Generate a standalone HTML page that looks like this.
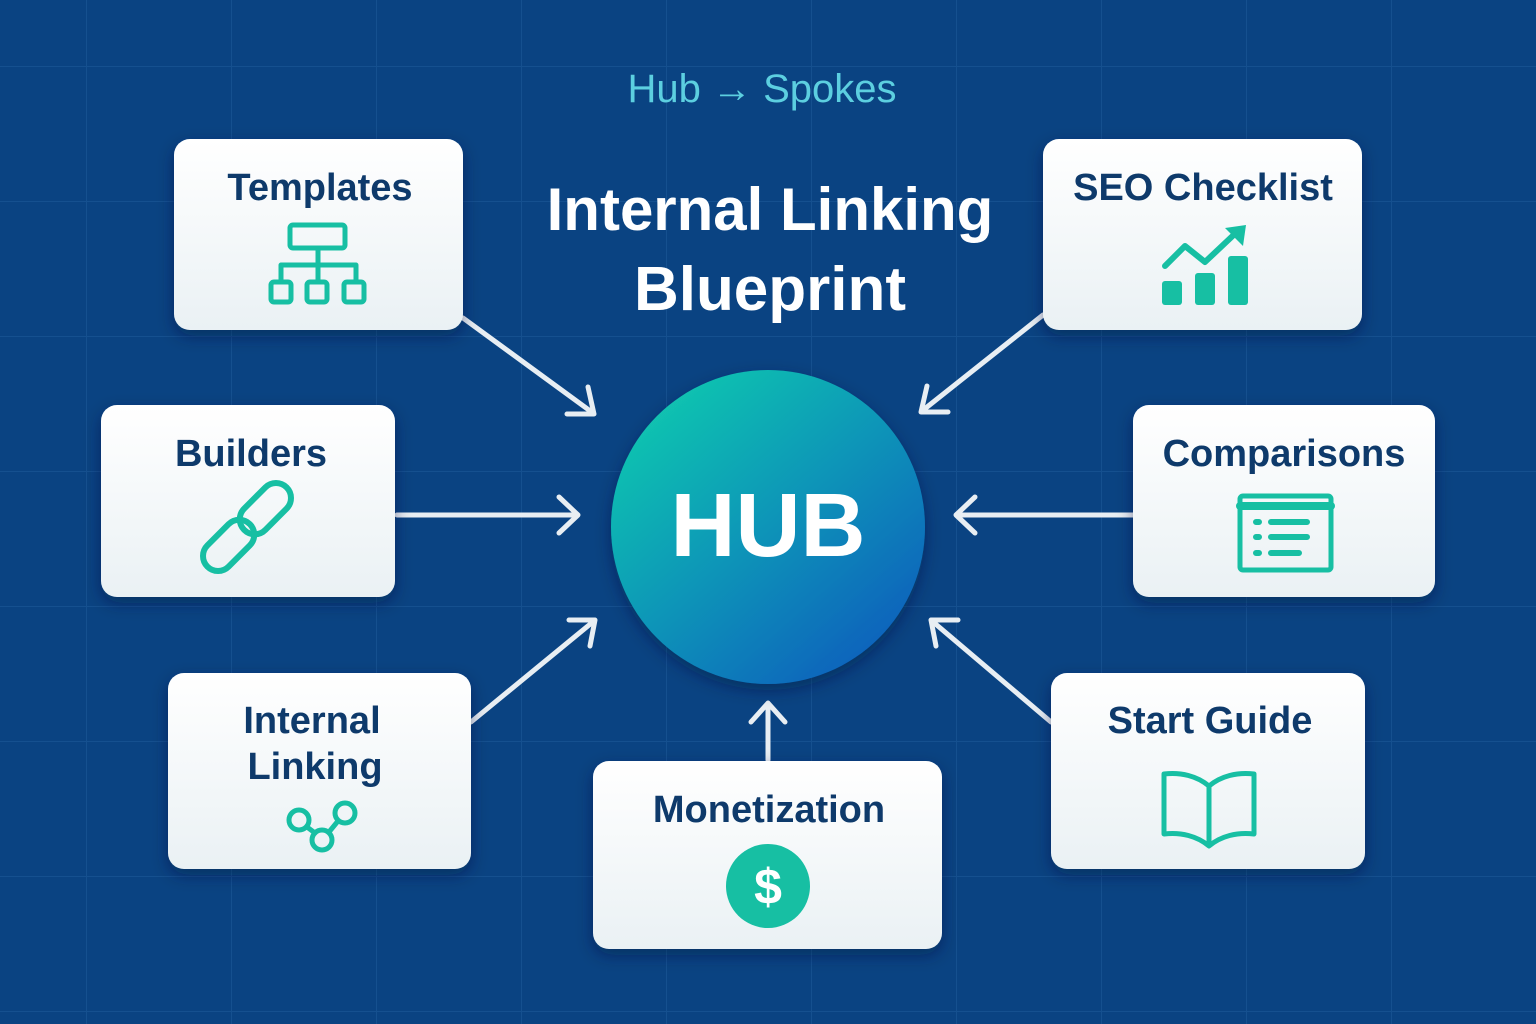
<!DOCTYPE html>
<html><head><meta charset="utf-8"><style>
html,body{margin:0;padding:0;width:1536px;height:1024px;overflow:hidden;background:#0a4382}
svg{display:block}
text{font-family:"Liberation Sans","DejaVu Sans",sans-serif;font-weight:bold}
</style></head><body>
<svg width="1536" height="1024" viewBox="0 0 1536 1024" xmlns="http://www.w3.org/2000/svg">
<defs>
<pattern id="grid" width="145" height="135" patternUnits="userSpaceOnUse" x="-58" y="-68">
<path d="M145 0V135M0 135H145" stroke="#15508f" stroke-width="2" fill="none"/>
</pattern>
<linearGradient id="card" x1="0" y1="0" x2="0" y2="1"><stop offset="0" stop-color="#ffffff"/><stop offset="1" stop-color="#eaf1f4"/></linearGradient>
<linearGradient id="hub" x1="0.15" y1="0.1" x2="0.85" y2="0.9"><stop offset="0" stop-color="#12c4b0"/><stop offset="0.5" stop-color="#0a94b8"/><stop offset="1" stop-color="#0a62bc"/></linearGradient>
<filter id="sh" x="-20%" y="-20%" width="140%" height="150%"><feDropShadow dx="0" dy="6" stdDeviation="8" flood-color="#021a3a" flood-opacity="0.45"/></filter>
</defs>
<rect width="1536" height="1024" fill="#0a4382"/>
<rect width="1536" height="1024" fill="url(#grid)"/>

<text x="762" y="102" font-size="40" fill="#5ccfe0" text-anchor="middle" style="font-weight:normal">Hub → Spokes</text>
<text x="770" y="230" font-size="60" fill="#fff" text-anchor="middle">Internal Linking</text>
<text x="770" y="310" font-size="62" fill="#fff" text-anchor="middle">Blueprint</text>

<g stroke="#e8eef3" stroke-width="5" fill="none" stroke-linecap="round" stroke-linejoin="round">
<line x1="463" y1="318" x2="593" y2="413"/><polyline points="567,414 594,414 588,387"/>
<line x1="1043" y1="315" x2="922" y2="411"/><polyline points="927,386 921,412 948,412"/>
<line x1="397" y1="515" x2="577" y2="515"/><polyline points="559,497 578,515 559,533"/>
<line x1="1133" y1="515" x2="957" y2="515"/><polyline points="975,497 956,515 975,533"/>
<line x1="471" y1="722" x2="594" y2="621"/><polyline points="569,620 595,620 590,646"/>
<line x1="1051" y1="722" x2="932" y2="621"/><polyline points="936,646 931,620 958,620"/>
<line x1="768" y1="760" x2="768" y2="704"/><polyline points="751,722 768,703 785,722"/>
</g>

<circle cx="768" cy="527" r="157" fill="url(#hub)" filter="url(#sh)"/>
<text x="768" y="556" font-size="90" fill="#fff" text-anchor="middle">HUB</text>

<g filter="url(#sh)" fill="url(#card)">
<rect x="174" y="139" width="289" height="191" rx="16"/>
<rect x="1043" y="139" width="319" height="191" rx="16"/>
<rect x="101" y="405" width="294" height="192" rx="16"/>
<rect x="1133" y="405" width="302" height="192" rx="16"/>
<rect x="168" y="673" width="303" height="196" rx="16"/>
<rect x="1051" y="673" width="314" height="196" rx="16"/>
<rect x="593" y="761" width="349" height="188" rx="16"/>
</g>
<g fill="#0e3a6b" font-size="38" text-anchor="middle">
<text x="320" y="200">Templates</text>
<text x="1203" y="200">SEO Checklist</text>
<text x="251" y="466">Builders</text>
<text x="1284" y="466">Comparisons</text>
<text x="312" y="733">Internal</text>
<text x="315" y="779">Linking</text>
<text x="1210" y="733">Start Guide</text>
<text x="769" y="822">Monetization</text>
</g>

<g stroke="#17bfa3" stroke-width="5" fill="none" stroke-linejoin="round" stroke-linecap="round">
<rect x="290" y="225" width="55" height="23" rx="3"/>
<path d="M318 248V265M281 280V265H356V280M318 265V280"/>
<rect x="271" y="282" width="20" height="20" rx="3"/><rect x="307" y="282" width="20" height="20" rx="3"/><rect x="344" y="282" width="20" height="20" rx="3"/>
<g transform="translate(247,527) rotate(-45)" stroke-width="6">
<rect x="-4" y="-15" width="60" height="30" rx="15"/>
<rect x="-56" y="-15" width="60" height="30" rx="15"/>
</g>
<rect x="1240" y="496" width="91" height="74" rx="3"/>
<path d="M1240 506H1331" stroke-width="8"/>
<path d="M1256 522h3M1271 522h36M1256 537h3M1271 537h36M1256 553h3M1271 553h28" stroke-width="6"/>
<circle cx="299" cy="820" r="10"/><circle cx="345" cy="813" r="10"/><circle cx="322" cy="840" r="10"/>
<path d="M307 827l8 6M338 821l-9 11"/>
<path d="M1209 786c-12-10-28-14-45-12v60c17-2 33 2 45 12c12-10 28-14 45-12v-60c-17-2-33 2-45 12zM1209 786v60"/>
<path d="M1165 266l20-20l20 16l35-33" stroke-width="6"/>
</g>
<polygon points="1246,225 1225,228 1243,246" fill="#17bfa3"/>
<g fill="#17bfa3">
<rect x="1162" y="281" width="20" height="24" rx="3"/>
<rect x="1195" y="273" width="20" height="32" rx="3"/>
<rect x="1228" y="256" width="20" height="49" rx="3"/>
<circle cx="768" cy="886" r="42"/>
</g>
<text x="768" y="904" font-size="50" fill="#fff" text-anchor="middle">$</text>
</svg>
</body></html>
